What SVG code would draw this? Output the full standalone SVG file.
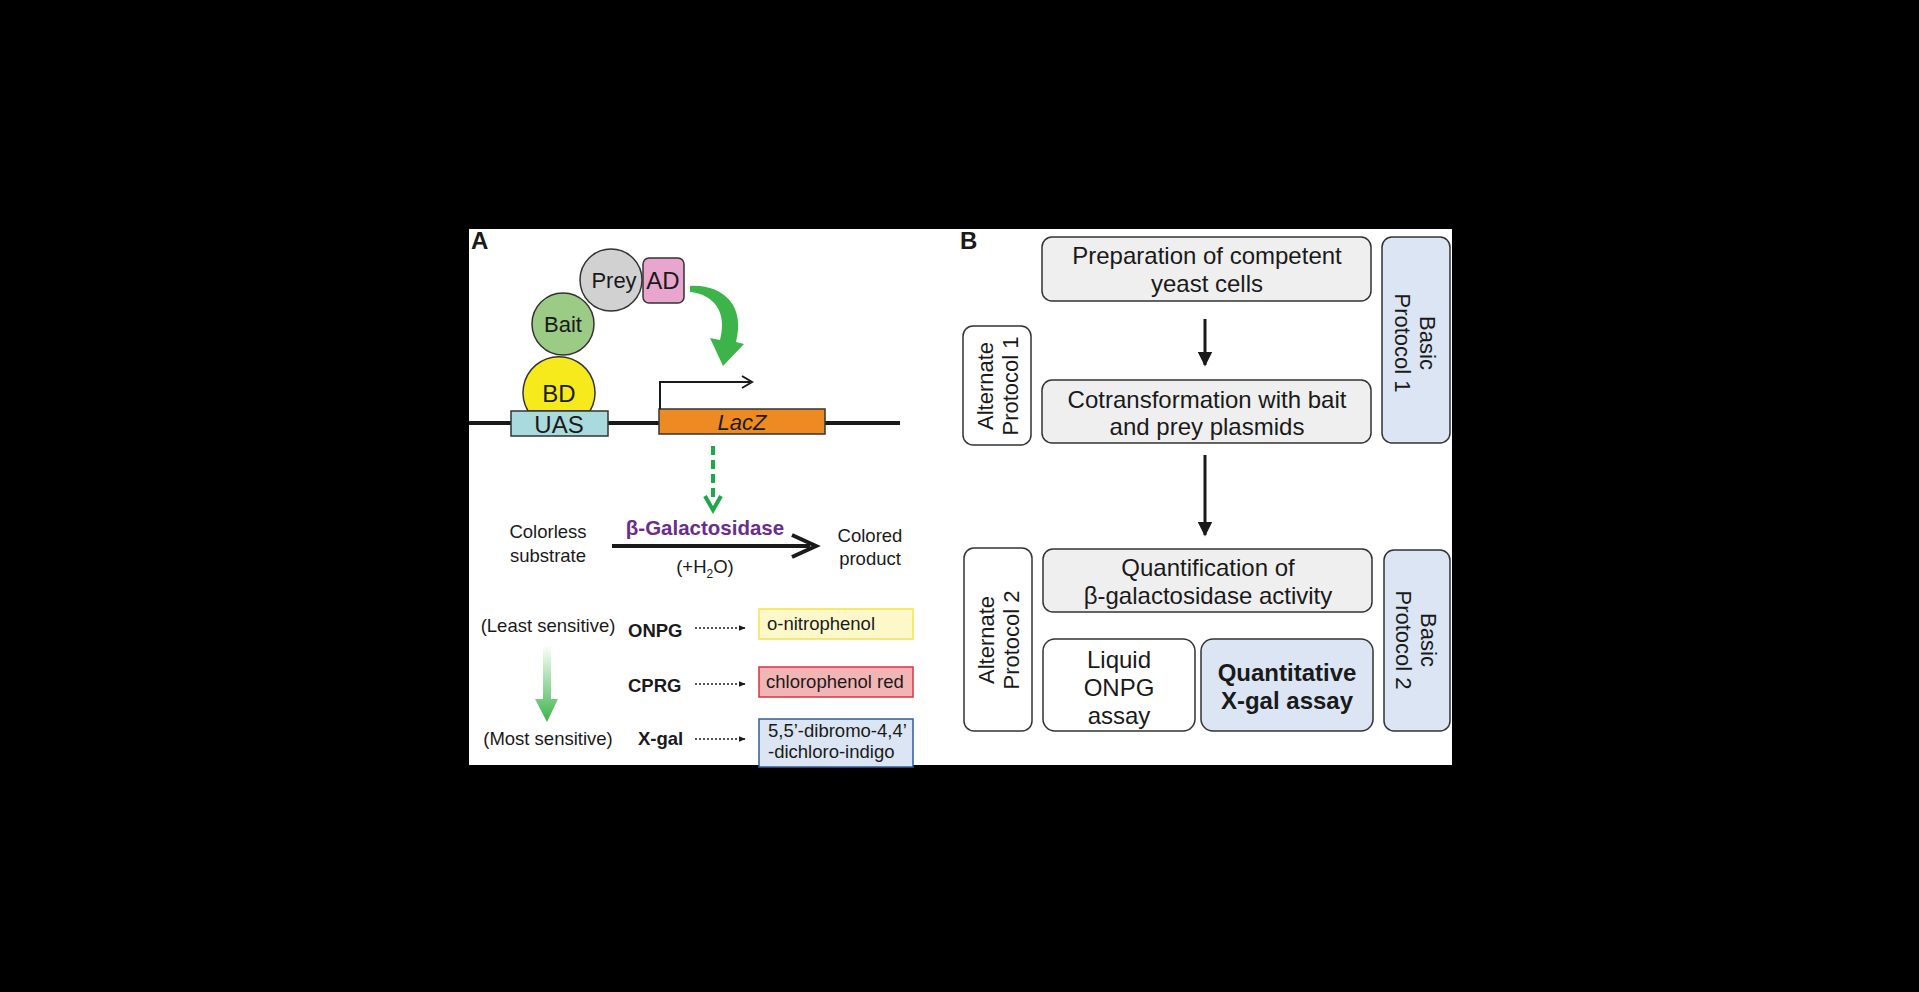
<svg xmlns="http://www.w3.org/2000/svg" width="1919" height="992" viewBox="0 0 1919 992">
<defs>
<style>
text{font-family:"Liberation Sans",Arial,sans-serif;fill:#1a1a1a}
.c{text-anchor:middle}
.b{font-weight:bold}
.box{stroke:#333;stroke-width:1.5}
.t24{font-size:24px}
.t22{font-size:22px}
.t20{font-size:20px}
.t18{font-size:18.5px}
</style>
<marker id="ah" viewBox="0 0 10 10" refX="9" refY="5" markerWidth="5" markerHeight="5" orient="auto"><path d="M0,0L10,5L0,10z" fill="#1a1a1a"/></marker>
<marker id="ahs" viewBox="0 0 10 10" refX="9" refY="5" markerWidth="7" markerHeight="7" orient="auto" markerUnits="userSpaceOnUse"><path d="M0,1L10,5L0,9z" fill="#1a1a1a"/></marker>
<linearGradient id="gg" x1="0" y1="0" x2="0" y2="1"><stop offset="0" stop-color="#3cb44a" stop-opacity="0"/><stop offset="1" stop-color="#3cb44a"/></linearGradient>
</defs>
<rect width="1919" height="992" fill="#000"/>
<rect x="469" y="229" width="983" height="536" fill="#fff"/>
<text x="471" y="249" class="b" font-size="24">A</text>
<text x="960" y="249" class="b" font-size="24">B</text>
<g id="dna"><line x1="469" y1="423" x2="900" y2="423" stroke="#1a1a1a" stroke-width="4"/></g>
<g id="bd"><path d="M528,411 A36,36 0 1 1 590,411 Z" fill="#f7ea1c" stroke="#333" stroke-width="1.5"/><text x="559" y="402" class="c t24">BD</text></g>
<g id="uas"><rect x="511" y="411" width="97" height="25" fill="#a9dadd" class="box"/><text x="559" y="433" class="c t24">UAS</text></g>
<g id="bait"><circle cx="563" cy="324" r="31" fill="#9ccb86" class="box"/><text x="563" y="332" class="c t22">Bait</text></g>
<g id="prey"><circle cx="611" cy="280" r="31" fill="#d1d1d1" class="box"/><text x="614" y="288" class="c t22">Prey</text></g>
<g id="ad"><rect x="643" y="258" width="41" height="45" rx="6" fill="#e8a6cf" class="box"/><text x="663" y="289" class="c t24">AD</text></g>
<g id="lacz"><rect x="659" y="409" width="166" height="25" fill="#ee8a22" class="box"/><text x="742" y="430" class="c t22" font-style="italic">LacZ</text></g>
<g id="connectors">
<path d="M660,409 V382 H750" fill="none" stroke="#1a1a1a" stroke-width="2"/>
<path d="M742,376 L752,382 L742,388" fill="none" stroke="#1a1a1a" stroke-width="2"/>
<path d="M690,286 C722,284 746,305 736,342 L744,344 L723,366 L710,338 L720,340 C728,310 712,294 690,292 Z" fill="#3cb44a"/>
<line x1="713" y1="446" x2="713" y2="500" stroke="#1fa84a" stroke-width="4" stroke-dasharray="9,5"/>
<path d="M705,496 L713,510 L721,496" fill="none" stroke="#1fa84a" stroke-width="4"/>
<line x1="612" y1="546" x2="810" y2="546" stroke="#1a1a1a" stroke-width="4"/>
<path d="M792,535 L816,546 L792,557" fill="none" stroke="#1a1a1a" stroke-width="4"/>
<line x1="695" y1="628" x2="745" y2="628" stroke="#1a1a1a" stroke-width="1.5" stroke-dasharray="2,2" marker-end="url(#ahs)"/>
<line x1="695" y1="684" x2="745" y2="684" stroke="#1a1a1a" stroke-width="1.5" stroke-dasharray="2,2" marker-end="url(#ahs)"/>
<line x1="695" y1="739" x2="745" y2="739" stroke="#1a1a1a" stroke-width="1.5" stroke-dasharray="2,2" marker-end="url(#ahs)"/>
<path d="M543,645 H551 V699 H558 L547,722 L535,699 H543 Z" fill="url(#gg)"/>
<line x1="1205" y1="319" x2="1205" y2="365" stroke="#1a1a1a" stroke-width="3" marker-end="url(#ah)"/>
<line x1="1205" y1="455" x2="1205" y2="535" stroke="#1a1a1a" stroke-width="3" marker-end="url(#ah)"/>
</g>
<g id="reaction">
<text x="548" y="538" class="c t18">Colorless</text><text x="548" y="562" class="c t18">substrate</text>
<text x="705" y="535" class="c b" font-size="20.5" style="fill:#6a2d8c">β-Galactosidase</text>
<text x="705" y="573" class="c t18">(+H<tspan font-size="12" dy="5">2</tspan><tspan dy="-5">O)</tspan></text>
<text x="870" y="542" class="c t18">Colored</text><text x="870" y="565" class="c t18">product</text>
</g>
<g id="substrates">
<text x="548" y="632" class="c t18">(Least sensitive)</text>
<text x="548" y="745" class="c t18">(Most sensitive)</text>
<text x="628" y="637" class="b t18">ONPG</text>
<text x="628" y="692" class="b t18">CPRG</text>
<text x="638" y="745" class="b t18">X-gal</text>
</g>
<g id="onp"><rect x="759" y="609" width="154" height="30" fill="#fdf8c9" stroke="#f2e445" stroke-width="1.5"/><text x="767" y="630" class="t18">o-nitrophenol</text></g>
<g id="cpr"><rect x="759" y="667" width="154" height="30" fill="#f2b5b5" stroke="#e03040" stroke-width="1.5"/><text x="766" y="688" class="t18">chlorophenol red</text></g>
<g id="indigo"><rect x="759" y="719" width="154" height="48" fill="#dbe5f3" stroke="#2f5c9a" stroke-width="1.5"/><text x="768" y="737" class="t18">5,5’-dibromo-4,4’</text><text x="768" y="758" class="t18">-dichloro-indigo</text></g>
<g id="prep"><rect x="1042" y="237" width="329" height="64" rx="10" fill="#efefef" class="box"/><text x="1207" y="264" class="c t24">Preparation of competent</text><text x="1207" y="292" class="c t24">yeast cells</text></g>
<g id="cotrans"><rect x="1042" y="380" width="329" height="63" rx="10" fill="#efefef" class="box"/><text x="1207" y="408" class="c t24">Cotransformation with bait</text><text x="1207" y="435" class="c t24">and prey plasmids</text></g>
<g id="quant"><rect x="1043" y="549" width="329" height="63" rx="10" fill="#efefef" class="box"/><text x="1208" y="576" class="c t24">Quantification of</text><text x="1208" y="604" class="c t24">β-galactosidase activity</text></g>
<g id="liquid"><rect x="1043" y="639" width="152" height="92" rx="12" fill="#fff" class="box"/><text x="1119" y="668" class="c t24">Liquid</text><text x="1119" y="696" class="c t24">ONPG</text><text x="1119" y="724" class="c t24">assay</text></g>
<g id="xgal"><rect x="1201" y="639" width="172" height="92" rx="12" fill="#dbe5f3" class="box"/><text x="1287" y="681" class="c b t24">Quantitative</text><text x="1287" y="709" class="c b t24">X-gal assay</text></g>
<g id="alt1"><rect x="963" y="326" width="68" height="119" rx="10" fill="#fff" class="box"/><g transform="translate(997,386) rotate(-90)"><text x="0" y="-4" class="c t22">Alternate</text><text x="0" y="21" class="c t22">Protocol 1</text></g></g>
<g id="alt2"><rect x="964" y="548" width="68" height="183" rx="10" fill="#fff" class="box"/><g transform="translate(998,640) rotate(-90)"><text x="0" y="-4" class="c t22">Alternate</text><text x="0" y="21" class="c t22">Protocol 2</text></g></g>
<g id="basic1"><rect x="1382" y="237" width="68" height="206" rx="10" fill="#dbe5f3" class="box"/><g transform="translate(1416,343) rotate(90)"><text x="0" y="-4" class="c t22">Basic</text><text x="0" y="21" class="c t22">Protocol 1</text></g></g>
<g id="basic2"><rect x="1384" y="550" width="66" height="181" rx="10" fill="#dbe5f3" class="box"/><g transform="translate(1417,640) rotate(90)"><text x="0" y="-4" class="c t22">Basic</text><text x="0" y="21" class="c t22">Protocol 2</text></g></g>
</svg>
